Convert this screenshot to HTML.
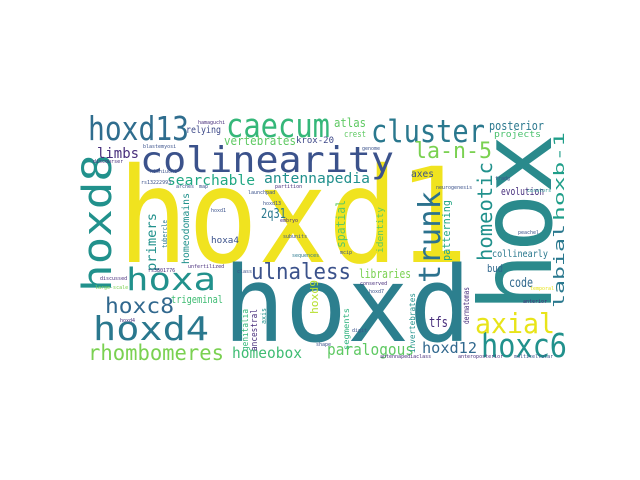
<!DOCTYPE html>
<html><head><meta charset="utf-8">
<style>
html,body{margin:0;padding:0;background:#fff;}
svg{display:block;}
text{font-family:"DejaVu Sans Mono","Liberation Mono",monospace;}
</style></head>
<body>
<svg width="640" height="480" viewBox="0 0 640 480">
<rect x="0" y="0" width="640" height="480" fill="#fff"/>
<g id="words">
<text x="118" y="262" font-size="132" fill="#f0e31f" textLength="350" lengthAdjust="spacingAndGlyphs">hoxd1</text>
<text x="223" y="341" font-size="104" fill="#2c7f8e" textLength="248" lengthAdjust="spacingAndGlyphs">hoxd</text>
<text transform="translate(551,312) rotate(-90)" font-size="100" fill="#2a8a8c" textLength="178" lengthAdjust="spacingAndGlyphs">hox</text>
<text x="140" y="172" font-size="36" fill="#3b528b" textLength="254" lengthAdjust="spacingAndGlyphs">colinearity</text>
<text x="88" y="140" font-size="33" fill="#2f6d8e" textLength="101" lengthAdjust="spacingAndGlyphs">hoxd13</text>
<text x="226" y="137" font-size="33" fill="#35b779" textLength="104" lengthAdjust="spacingAndGlyphs">caecum</text>
<text x="371" y="142" font-size="31" fill="#2a788e" textLength="114" lengthAdjust="spacingAndGlyphs">cluster</text>
<text x="414" y="158" font-size="22" fill="#7ad151" textLength="78" lengthAdjust="spacingAndGlyphs">la-n-5</text>
<text transform="translate(111,292) rotate(-90)" font-size="40" fill="#21918c" textLength="138" lengthAdjust="spacingAndGlyphs">hoxd8</text>
<text transform="translate(440,283) rotate(-90)" font-size="30" fill="#2c728e" textLength="92" lengthAdjust="spacingAndGlyphs">trunk</text>
<text transform="translate(492,261) rotate(-90)" font-size="20" fill="#21918c" textLength="99" lengthAdjust="spacingAndGlyphs">homeotic</text>
<text transform="translate(564,221) rotate(-90)" font-size="14" fill="#1f9e89" textLength="89" lengthAdjust="spacingAndGlyphs">hoxb-1</text>
<text transform="translate(564,308) rotate(-90)" font-size="14" fill="#2a788e" textLength="84" lengthAdjust="spacingAndGlyphs">labial</text>
<text x="126" y="290" font-size="31" fill="#21918c" textLength="90" lengthAdjust="spacingAndGlyphs">hoxa</text>
<text x="251" y="279" font-size="22" fill="#3b528b" textLength="100" lengthAdjust="spacingAndGlyphs">ulnaless</text>
<text x="105" y="313" font-size="21" fill="#31688e" textLength="69" lengthAdjust="spacingAndGlyphs">hoxc8</text>
<text x="93" y="340" font-size="33" fill="#2a788e" textLength="116" lengthAdjust="spacingAndGlyphs">hoxd4</text>
<text x="88" y="360" font-size="21" fill="#7ad151" textLength="136" lengthAdjust="spacingAndGlyphs">rhombomeres</text>
<text x="232" y="358" font-size="15" fill="#3fbc73" textLength="70" lengthAdjust="spacingAndGlyphs">homeobox</text>
<text x="327" y="355" font-size="16" fill="#5ec962" textLength="87" lengthAdjust="spacingAndGlyphs">paralogous</text>
<text x="422" y="353" font-size="15" fill="#31688e" textLength="55" lengthAdjust="spacingAndGlyphs">hoxd12</text>
<text x="481" y="357" font-size="33" fill="#21918c" textLength="86" lengthAdjust="spacingAndGlyphs">hoxc6</text>
<text x="475" y="333" font-size="28" fill="#e8e419" textLength="80" lengthAdjust="spacingAndGlyphs">axial</text>
<text x="97" y="158" font-size="14" fill="#472d7b" textLength="42" lengthAdjust="spacingAndGlyphs">limbs</text>
<text x="167" y="185" font-size="14" fill="#22a884" textLength="88" lengthAdjust="spacingAndGlyphs">searchable</text>
<text x="264" y="183" font-size="14" fill="#21908d" textLength="106" lengthAdjust="spacingAndGlyphs">antennapedia</text>
<text x="224" y="145" font-size="12" fill="#5ec962" textLength="72" lengthAdjust="spacingAndGlyphs">vertebrates</text>
<text x="334" y="127" font-size="12" fill="#5ec962" textLength="32" lengthAdjust="spacingAndGlyphs">atlas</text>
<text x="186" y="133" font-size="10" fill="#3e4a89" textLength="35" lengthAdjust="spacingAndGlyphs">relying</text>
<text x="296" y="143" font-size="9" fill="#3e4989" textLength="38" lengthAdjust="spacingAndGlyphs">krox-20</text>
<text x="344" y="137" font-size="9" fill="#5ec962" textLength="22" lengthAdjust="spacingAndGlyphs">crest</text>
<text x="489" y="130" font-size="12" fill="#2a788e" textLength="55" lengthAdjust="spacingAndGlyphs">posterior</text>
<text x="494" y="137" font-size="9" fill="#4ac16d" textLength="47" lengthAdjust="spacingAndGlyphs">projects</text>
<text x="501" y="195" font-size="11" fill="#472f7d" textLength="43" lengthAdjust="spacingAndGlyphs">evolution</text>
<text x="411" y="177" font-size="10" fill="#3b528b" textLength="23" lengthAdjust="spacingAndGlyphs">axes</text>
<text x="492" y="257" font-size="10" fill="#2a788e" textLength="56" lengthAdjust="spacingAndGlyphs">collinearly</text>
<text x="509" y="287" font-size="13" fill="#31688e" textLength="24" lengthAdjust="spacingAndGlyphs">code</text>
<text x="487" y="272" font-size="11" fill="#31688e" textLength="16" lengthAdjust="spacingAndGlyphs">bud</text>
<text x="429" y="327" font-size="14" fill="#472d7b" textLength="19" lengthAdjust="spacingAndGlyphs">tfs</text>
<text x="359" y="278" font-size="12" fill="#7ad151" textLength="52" lengthAdjust="spacingAndGlyphs">libraries</text>
<text x="261" y="218" font-size="13" fill="#2a788e" textLength="25" lengthAdjust="spacingAndGlyphs">2q31</text>
<text x="211" y="243" font-size="9" fill="#3b528b" textLength="28" lengthAdjust="spacingAndGlyphs">hoxa4</text>
<text x="171" y="303" font-size="11" fill="#3fbc73" textLength="52" lengthAdjust="spacingAndGlyphs">trigeminal</text>
<text transform="translate(345,248) rotate(-90)" font-size="12" fill="#5ec962" textLength="48" lengthAdjust="spacingAndGlyphs">spatial</text>
<text transform="translate(383,253) rotate(-90)" font-size="9" fill="#5ec962" textLength="46" lengthAdjust="spacingAndGlyphs">identity</text>
<text transform="translate(450,261) rotate(-90)" font-size="11" fill="#21a685" textLength="61" lengthAdjust="spacingAndGlyphs">patterning</text>
<text transform="translate(189,264) rotate(-90)" font-size="10" fill="#21918c" textLength="71" lengthAdjust="spacingAndGlyphs">homeodomains</text>
<text transform="translate(156,271) rotate(-90)" font-size="13" fill="#21918c" textLength="58" lengthAdjust="spacingAndGlyphs">primers</text>
<text transform="translate(167,248) rotate(-90)" font-size="7" fill="#2a788e" textLength="28" lengthAdjust="spacingAndGlyphs">tubercle</text>
<text transform="translate(318,314) rotate(-90)" font-size="11" fill="#b5de2b" textLength="34" lengthAdjust="spacingAndGlyphs">hoxd9</text>
<text transform="translate(248,351) rotate(-90)" font-size="9" fill="#35b779" textLength="42" lengthAdjust="spacingAndGlyphs">genitalia</text>
<text transform="translate(257,351) rotate(-90)" font-size="9" fill="#472d7b" textLength="42" lengthAdjust="spacingAndGlyphs">ancestral</text>
<text transform="translate(266,324) rotate(-90)" font-size="7" fill="#21918c" textLength="16" lengthAdjust="spacingAndGlyphs">axis</text>
<text transform="translate(349,350) rotate(-90)" font-size="8" fill="#2db27d" textLength="42" lengthAdjust="spacingAndGlyphs">segments</text>
<text transform="translate(415,353) rotate(-90)" font-size="8" fill="#21918c" textLength="60" lengthAdjust="spacingAndGlyphs">invertebrates</text>
<text transform="translate(469,324) rotate(-90)" font-size="8" fill="#472d7b" textLength="37" lengthAdjust="spacingAndGlyphs">dermatomas</text>
<g font-size="5">
<text x="198" y="124" fill="#472d7b">hamaguchi</text>
<text x="143" y="148" fill="#3b528b">blastemyosi</text>
<text x="93" y="163" fill="#472d7b">discourser</text>
<text x="150" y="173" fill="#3b528b">nishiuchi</text>
<text x="141" y="184" fill="#3b528b">rs13222993</text>
<text x="176" y="188" fill="#3b528b">arches</text>
<text x="199" y="188" fill="#3b528b">map</text>
<text x="275" y="188" fill="#472d7b">partition</text>
<text x="248" y="194" fill="#3b528b">launchpad</text>
<text x="263" y="205" fill="#3b528b">hoxd13</text>
<text x="211" y="212" fill="#3b528b">hoxd1</text>
<text x="280" y="222" fill="#472d7b">embryo</text>
<text x="283" y="238" fill="#3b528b">subunits</text>
<text x="148" y="272" fill="#472d7b">rs3801776</text>
<text x="188" y="268" fill="#472d7b">unfertilized</text>
<text x="100" y="280" fill="#472d7b">discussed</text>
<text x="95" y="289" fill="#7ad151">large-scale</text>
<text x="292" y="257" fill="#2a788e">sequences</text>
<text x="340" y="254" fill="#3b528b">mcip</text>
<text x="237" y="273" fill="#3b528b">class</text>
<text x="360" y="285" fill="#472d7b">conserved</text>
<text x="369" y="293" fill="#3b528b">hoxd7</text>
<text x="380" y="358" fill="#472d7b">antennapediaclass</text>
<text x="458" y="358" fill="#472d7b">anteroposterior</text>
<text x="514" y="358" fill="#3b528b">multicellular</text>
<text x="530" y="290" fill="#e8e419">temporal</text>
<text x="523" y="303" fill="#472d7b">anterior</text>
<text x="518" y="234" fill="#3b528b">peachel</text>
<text x="527" y="192" fill="#21918c">curators</text>
<text x="495" y="180" fill="#3b528b">fradg</text>
<text x="362" y="150" fill="#3b528b">genome</text>
<text x="436" y="189" fill="#3b528b">neurogenesis</text>
<text x="120" y="322" fill="#472d7b">hoxd4</text>
<text x="352" y="332" fill="#3b528b">digit</text>
<text x="316" y="346" fill="#3b528b">shape</text>
</g>
</g>
</svg>
</body></html>
